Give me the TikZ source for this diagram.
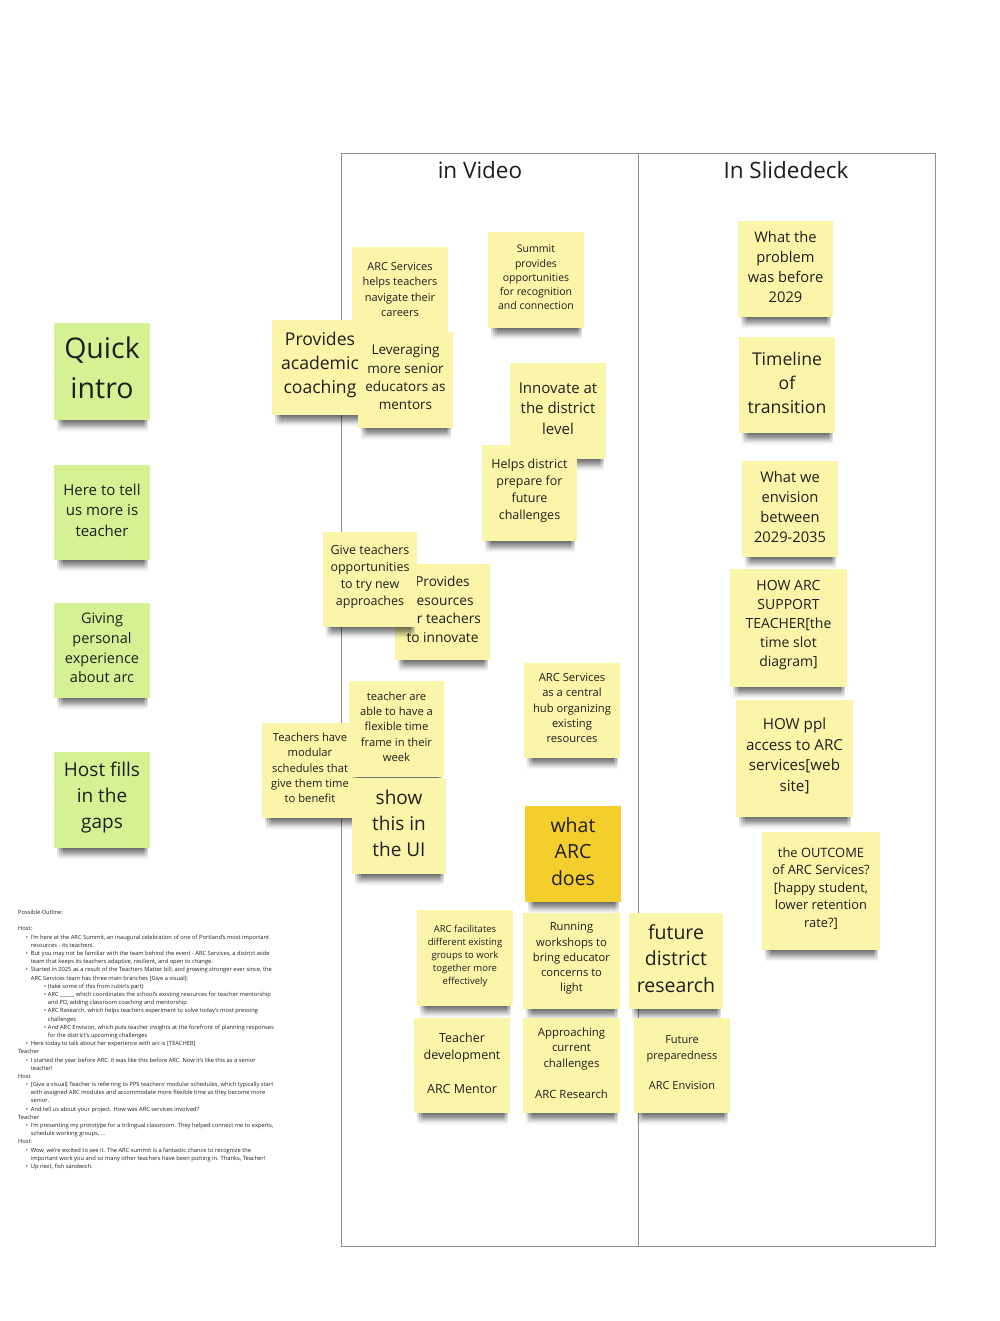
\documentclass[tikz,border=0pt]{standalone}
\usepackage{fontspec}
\setmainfont{Open Sans}
\usetikzlibrary{fadings}
\definecolor{yl}{HTML}{FBF5AA}
\definecolor{gr}{HTML}{D6F193}
\definecolor{dk}{HTML}{F4CE2C}
\definecolor{ink}{HTML}{1E1E1E}
\definecolor{framegray}{HTML}{8E8E8E}
\newcommand{\stk}[9]{%
  \foreach \k in {0,...,3}{\fill[shadowlayer] ({#2+3+2*\k},{#5-1}) rectangle ({#4-2-1.5*\k},{#5+12-1.5*\k});}
  \fill[#6] (#2,#3) rectangle (#4,#5);
  \node[note, minimum width={(#4-#2)*1pt}, minimum height={(#5-#3)*1pt}, font=\fontsize{#7}{#8}\selectfont] (#1) at ({(#2+#4)/2},{(#3+#5)/2}) {#9};
}
\newcommand{\obul}{\hspace*{7.7pt}\makebox[5pt][l]{•}}
\newcommand{\ocont}{\hspace*{12.7pt}}
\newcommand{\osbul}{\hspace*{26pt}\makebox[3.7pt][l]{•}}
\newcommand{\oscont}{\hspace*{29.7pt}}
\begin{document}
\begin{tikzpicture}[x=1pt,y=-1pt,
  note/.style={inner sep=0pt, outer sep=0pt, align=center, text=ink, yshift=2.5pt},
  frame/.style={draw=framegray, line width=1pt},
  shadowlayer/.style={fill=black, opacity=0.2, path fading=south},
  header/.style={inner sep=0pt, text=ink, font=\fontsize{22.5}{27}\selectfont}]
\fill[white] (0,0) rectangle (1000,1321);
\useasboundingbox (0,0) rectangle (1000,1321);

% column frames
\draw[frame] (341,154) rectangle (638,1246);
\draw[frame] (638,154) rectangle (935,1246);
\node[header] (hvideo) at (480,170) {in Video};
\node[header] (hslide) at (786,170) {In Slidedeck};

% green notes
\stk{quick}{54}{323}{150}{420}{gr}{28.5}{40}{\raisebox{2pt}{Quick}\\\raisebox{2pt}{intro}}
\stk{here}{54}{465}{150}{560}{gr}{15}{20.5}{Here to tell\\us more is\\teacher}
\stk{giving}{54}{603}{150}{698}{gr}{14.5}{19.7}{Giving\\personal\\experience\\about arc}
\stk{hostfills}{54}{752}{150}{848}{gr}{19}{26}{Host fills\\in the\\gaps}

% in video column
\stk{arcnav}{352}{247}{448}{337}{yl}{11}{15.3}{ARC Services\\helps teachers\\navigate their\\careers}
\stk{summit}{488}{232}{584}{328}{yl}{10.5}{14.3}{Summit\\provides\\opportunities\\for recognition\\and connection}
\stk{coach}{272}{320}{368}{415}{yl}{17.6}{24}{Provides\\academic\\coaching}
\stk{lever}{358}{332}{453}{428}{yl}{13.5}{18.3}{Leveraging\\more senior\\educators as\\mentors}
\stk{innov}{510}{363}{606}{459}{yl}{15}{20.5}{Innovate at\\the district\\level}
\stk{helps}{482}{445}{577}{541}{yl}{12.5}{17}{Helps district\\prepare for\\future\\challenges}
\stk{resources}{395}{564}{490}{660}{yl}{13.7}{18.7}{Provides\\resources\\for teachers\\to innovate}
\stk{give}{323}{532}{417}{627}{yl}{12.5}{17}{Give teachers\\opportunities\\to try new\\approaches}
\stk{modular}{262}{723}{358}{818}{yl}{11.2}{15.3}{Teachers have\\modular\\schedules that\\give them time\\to benefit}
\stk{flexible}{349}{681}{444}{777}{yl}{11.2}{15.3}{teacher are\\able to have a\\flexible time\\frame in their\\week}
\stk{showui}{352}{778}{446}{874}{yl}{19}{26}{show\\this in\\the UI}
\stk{hub}{524}{663}{620}{758}{yl}{11.2}{15.2}{ARC Services\\as a central\\hub organizing\\existing\\resources}
\stk{whatarc}{525}{806}{621}{902}{dk}{19.5}{26.5}{what\\ARC\\does}
\stk{facil}{417}{910}{513}{1006}{yl}{9.5}{13}{ARC facilitates\\different existing\\groups to work\\together more\\effectively}
\stk{running}{523}{913}{620}{1009}{yl}{11.2}{15.2}{Running\\workshops to\\bring educator\\concerns to\\light}
\stk{futureres}{629}{913}{723}{1009}{yl}{19.5}{26.5}{future\\district\\research}
\stk{mentor}{414}{1018}{510}{1113}{yl}{12.5}{17}{Teacher\\development\\\mbox{}\\ARC Mentor}
\stk{research}{523}{1018}{620}{1113}{yl}{11.4}{15.5}{Approaching\\current\\challenges\\\mbox{}\\ARC Research}
\stk{envision}{634}{1018}{730}{1113}{yl}{11}{15.3}{Future\\preparedness\\\mbox{}\\ARC Envision}

% in slidedeck column
\stk{problem}{738}{221}{833}{317}{yl}{14.7}{20}{What the\\problem\\was before\\2029}
\stk{timeline}{739}{337}{835}{433}{yl}{17.6}{24}{Timeline\\of\\transition}
\stk{between}{742}{461}{838}{557}{yl}{14.7}{20}{What we\\envision\\between\\2029-2035}
\stk{howarc}{730}{569}{847}{687}{yl}{14}{19}{HOW ARC\\SUPPORT\\TEACHER[the\\time slot\\diagram]}
\stk{howppl}{736}{700}{853}{817}{yl}{15.2}{20.7}{HOW ppl\\access to ARC\\services[web\\site]}
\stk{outcome}{762}{832}{880}{950}{yl}{12.9}{17.5}{the OUTCOME\\of ARC Services?\\{}[happy student,\\lower retention\\rate?]}

% outline text
\node[anchor=north west, inner sep=0pt, align=left, text=ink, font=\fontsize{5.75}{8.19}\selectfont] (outline) at (18,910) {%
Possible Outline:\\
\mbox{}\\
Host:\\
\obul I'm here at the ARC Summit, an inaugural celebration of one of Portland's most important\\
\ocont resources - its teachers.\\
\obul But you may not be familiar with the team behind the event - ARC Services, a district wide\\
\ocont team that keeps its teachers adaptive, resilient, and open to change.\\
\obul Started in 2025 as a result of the Teachers Matter bill, and growing stronger ever since, the\\
\ocont ARC Services team has three main branches [Give a visual]:\\
\osbul (take some of this from rubin's part)\\
\osbul ARC \_\_\_\_\_, which coordinates the school's existing resources for teacher mentorship\\
\oscont and PD, adding classroom coaching and mentorship\\
\osbul ARC Research, which helps teachers experiment to solve today's most pressing\\
\oscont challenges\\
\osbul And ARC Envision, which puts teacher insights at the forefront of planning responses\\
\oscont for the district's upcoming challenges\\
\obul Here today to talk about her experience with arc is [TEACHER]\\
Teacher\\
\obul I started the year before ARC. it was like this before ARC. Now it's like this as a senior\\
\ocont teacher!\\
Host\\
\obul [Give a visual] Teacher is referring to PPS teachers' modular schedules, which typically start\\
\ocont with assigned ARC modules and accommodate more flexible time as they become more\\
\ocont senior.\\
\obul And tell us about your project. How was ARC services involved?\\
Teacher\\
\obul I'm presenting my prototype for a trilingual classroom. They helped connect me to experts,\\
\ocont schedule working groups, ...\\
Host:\\
\obul Wow, we're excited to see it. The ARC summit is a fantastic chance to recognize the\\
\ocont important work you and so many other teachers have been putting in. Thanks, Teacher!\\
\obul Up next, fish sandwich.};
\end{tikzpicture}
\end{document}
